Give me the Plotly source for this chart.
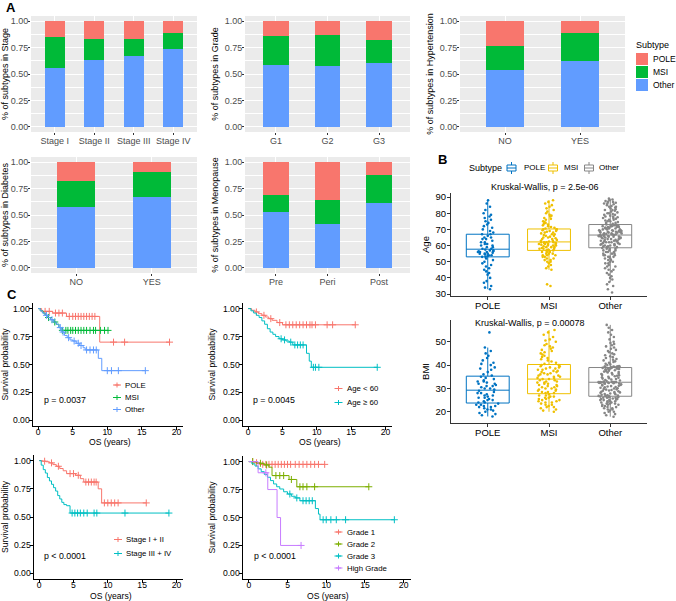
import numpy as np
import plotly.graph_objects as go

W, H = 676, 601
FONT = "Liberation Sans, Arial, Helvetica, sans-serif"

# ---------------- data ----------------
subtypes = ["POLE", "MSI", "Other"]
C_POLE, C_MSI, C_OTHER = "#F8766D", "#00BA38", "#619CFF"
JCO = {"POLE": "#0073C2", "MSI": "#EFC000", "Other": "#868686"}

# panel A: fraction of each subtype (stacked: Other bottom, MSI, POLE top)
stage_cats = ["Stage I", "Stage II", "Stage III", "Stage IV"]
stage_other = [0.56, 0.63, 0.67, 0.74]
stage_msi = [0.29, 0.205, 0.165, 0.15]
stage_pole = [0.15, 0.165, 0.165, 0.11]

grade_cats = ["G1", "G2", "G3"]
grade_other = [0.586, 0.574, 0.602]
grade_msi = [0.279, 0.294, 0.219]
grade_pole = [0.135, 0.132, 0.179]

htn_cats = ["NO", "YES"]
htn_other = [0.535, 0.62]
htn_msi = [0.227, 0.267]
htn_pole = [0.238, 0.113]

diab_cats = ["NO", "YES"]
diab_other = [0.574, 0.675]
diab_msi = [0.246, 0.237]
diab_pole = [0.18, 0.088]

meno_cats = ["Pre", "Peri", "Post"]
meno_other = [0.53, 0.41, 0.615]
meno_msi = [0.155, 0.237, 0.262]
meno_pole = [0.315, 0.353, 0.123]

# panel B: age and BMI per subtype
age_pole = [33, 34, 35, 37, 38, 40, 42, 43, 44, 45, 46, 47, 48, 49, 50, 51, 52,
            53, 53, 53.5, 54, 54, 54.5, 55, 55, 55, 55.5, 56, 56, 56, 56.5, 56.5, 57, 57,
            57.5, 58, 58, 59, 59, 60, 60, 61, 61, 62, 62, 63, 64, 64, 65, 65, 66, 67,
            67, 68, 69, 70, 71, 72, 73, 74, 75, 76, 77, 78, 79, 80, 82, 84, 86, 88]
age_msi = [35, 36, 45, 46, 47, 48, 49, 50, 50, 51, 51, 52, 52, 53, 53, 54, 54, 54, 55, 55, 55, 56, 56, 56, 57,
           57, 57, 57.5, 58, 58, 58, 58.5, 59, 59, 59, 59.5, 60, 60, 60, 60.5, 60.5, 61, 61, 61, 61.5, 61.5, 62, 62, 62, 62,
           62.5, 63, 63, 63.5, 64, 64, 64.5, 65, 65, 65.5, 66, 66, 66.5, 67, 67, 67.5, 68, 68, 68.5, 69, 69, 69.5, 70, 70, 70,
           70.5, 71, 71.5, 72, 72.5, 73, 73.5, 74, 74.5, 75, 76, 76.5, 77, 78, 78.5, 79, 80, 81, 82, 83, 84, 85, 86, 87, 88]
age_other = [31, 33, 35, 36, 37.5, 39, 40, 41, 42, 43, 44, 45, 45, 46, 47, 47, 48, 49, 49, 50, 50, 51, 51, 52, 52,
             53, 53, 53, 54, 54, 54, 55, 55, 55, 56, 56, 56, 57, 57, 57, 58, 58, 58, 58.5, 59,
             59, 59.5, 59.5, 60, 60, 60, 60.5, 60.5, 61, 61, 61, 61.5, 61.5, 62, 62, 62, 62.5, 62.5, 63, 63, 63,
             63.5, 63.5, 64, 64, 64, 64.5, 64.5, 65, 65, 65, 65.5, 65.5, 65.5, 65.8, 65.9, 66, 66, 66, 66,
             66.2, 66.5, 66.5, 66.8, 67, 67, 67, 67.2, 67.5, 67.5, 67.5, 68, 68, 68, 68.2, 68.5, 68.5, 68.5, 69, 69,
             69, 69.2, 69.5, 69.5, 69.5, 70, 70, 70, 70.5, 70.5, 70.5, 71, 71, 71, 71.5, 71.5, 71.5, 72, 72, 72, 72,
             72.5, 72.5, 72.5, 72.5,
             73, 73, 73.5, 74, 74, 74.5, 75, 75, 75.5, 76, 76, 76.5, 77, 77, 77.5, 78, 78, 78.5, 79, 79, 79.5, 80, 80,
             80.5, 81, 81.5, 82, 82, 82.5, 83, 83.5, 84, 84, 84.5, 85, 85.5, 86, 86, 86.5, 87, 87, 87.5, 88, 88.5, 89]

bmi_pole = [18, 18.5, 19, 19.5, 20, 20.5, 21, 21, 21.5, 22, 22, 22.5, 22.5, 23, 23, 23.5,
            24, 24, 24.5, 25, 25, 25.5, 26, 26, 26.5, 27, 27, 27.5, 28, 28, 28.5, 29,
            29.5, 30, 30, 30.5, 31, 31, 31.5, 32, 32, 32.5, 33, 33, 33.5, 34, 34.5, 35,
            35.5, 36, 37, 38, 38.5, 39, 40, 40.5, 41, 42, 43, 44, 45, 46, 47.5, 54]
bmi_msi = [20, 20.5, 21, 21.5, 22, 22, 22.5, 23, 23, 23.5, 24, 24, 24.5, 24.5, 25, 25, 25.5, 25.5, 26, 26, 26.5, 26.5, 27, 27, 27.5,
           28, 28, 28.5, 28.5, 29, 29, 29.5, 29.5, 30, 30, 30.5, 30.5, 31, 31, 31.5, 31.5, 32, 32, 32.5, 32.5, 33, 33, 33.5, 33.5, 34,
           34, 34.5, 34.5, 35, 35, 35.5, 35.5, 36, 36, 36.5, 36.5, 37, 37, 37.5, 37.5, 38, 38, 38.5, 38.5, 39, 39, 39.5, 39.5, 40, 40,
           40.5, 41, 41.5, 42, 42.5, 43, 43.5, 44, 44.5, 45, 45.5, 46, 46.5, 47, 47.5, 48, 48.5, 49, 50, 50.5, 51, 52, 53, 54, 55]
bmi_other = [17.9, 18.5, 19, 19.5, 20, 20, 20.5, 21, 21, 21.5, 21.5, 22, 22, 22.5, 22.5, 23, 23, 23, 23.5, 23.5, 23.5,
             24, 24, 24, 24.5, 24.5, 24.5, 25, 25, 25, 25.3, 25.5, 25.5, 25.7, 26, 26, 26, 26.2, 26.3, 26.5, 26.5,
             26.6, 26.7, 26.8, 26.9,
             27, 27.1, 27.3, 27.5, 27.6, 27.8, 28, 28.1, 28.3, 28.5, 28.6, 28.8, 29, 29.1, 29.3, 29.5, 29.6, 29.8,
             30, 30.1, 30.3, 30.5, 30.6, 30.8, 31, 31.1, 31.3, 31.5, 31.6, 31.8, 32, 32.1, 32.2, 32.3, 32.4, 32.5,
             32.5, 32.6, 32.6, 32.7, 32.7, 32.7, 32.7, 32.7, 32.7,
             32.8, 33, 33.2, 33.4, 33.6, 33.8, 34, 34.2, 34.4, 34.6, 34.8, 35, 35.2, 35.4, 35.6, 35.8, 36, 36.2,
             36.4, 36.6, 36.8, 37, 37.2, 37.4, 37.6, 37.8, 38, 38.1, 38.2, 38.3, 38.4, 38.5, 38.6, 38.7, 38.8,
             38.9, 39, 39.1, 39.2, 39.3, 39.4, 39.4, 39.4, 39.4, 39.4,
             39.6, 40, 40.3, 40.6, 41, 41.3, 41.6, 42, 42.3, 42.6, 43, 43.4, 43.8, 44.2, 44.6, 45, 45.5, 46, 46.5,
             47, 47.5, 48, 48.5, 49, 49.5, 50, 51, 52, 53, 54, 55, 56, 57.2]

# panel C: Kaplan-Meier step curves (time in years, survival) and censor times
km_sub_pole_t = [0, 0.5, 2.1, 4.1, 8.9, 19.0]
km_sub_pole_s = [1.0, 0.975, 0.96, 0.93, 0.70, 0.70]
km_sub_pole_c = [1.0, 1.6, 2.5, 3.0, 3.5, 4.5, 5.0, 5.4, 5.8, 6.2, 6.6, 7.0, 7.4, 7.8, 8.2, 10.9, 12.5, 19.0]
km_sub_msi_t = [0, 0.3, 0.7, 1.0, 1.4, 1.8, 2.2, 2.6, 3.0, 3.3, 10.1]
km_sub_msi_s = [1.0, 0.98, 0.96, 0.94, 0.92, 0.90, 0.88, 0.86, 0.83, 0.805, 0.805]
km_sub_msi_c = [1.5, 2.4, 3.5, 4.0, 4.3, 4.7, 5.0, 5.4, 5.8, 6.2, 6.6, 7.0, 7.5, 8.0, 8.3, 9.0, 9.6, 10.1]
km_sub_oth_t = [0, 0.3, 0.6, 1.0, 1.4, 1.8, 2.2, 2.6, 3.0, 3.4, 3.8, 4.2, 4.6, 5.0, 5.5, 6.0, 6.5, 6.8, 8.7, 9.2, 15.5]
km_sub_oth_s = [1.0, 0.98, 0.96, 0.94, 0.92, 0.90, 0.88, 0.86, 0.83, 0.79, 0.76, 0.74, 0.72, 0.71, 0.69, 0.67,
                0.65, 0.63, 0.555, 0.445, 0.445]
km_sub_oth_c = [1.2, 2.0, 3.2, 3.6, 4.4, 5.2, 5.8, 6.2, 7.0, 7.5, 8.0, 8.4, 10.0, 10.6, 11.6, 15.5]

km_age_lt_t = [0, 0.5, 1.0, 1.5, 2.0, 2.5, 3.0, 3.5, 4.2, 5.0, 15.6]
km_age_lt_s = [1.0, 0.985, 0.97, 0.955, 0.94, 0.925, 0.91, 0.895, 0.875, 0.855, 0.855]
km_age_lt_c = [1.2, 2.3, 3.3, 4.6, 5.5, 6.0, 6.5, 7.0, 7.5, 8.0, 8.5, 9.0, 9.3, 9.8, 11.5, 12.3, 15.6]
km_age_ge_t = [0, 0.4, 0.8, 1.2, 1.6, 2.0, 2.4, 2.8, 3.2, 3.6, 4.0, 4.5, 5.0, 5.5, 6.0, 6.5, 8.5, 8.9, 9.2, 18.8]
km_age_ge_s = [1.0, 0.98, 0.96, 0.94, 0.92, 0.89, 0.86, 0.82, 0.79, 0.77, 0.75, 0.73, 0.72, 0.71, 0.70, 0.675,
               0.60, 0.53, 0.475, 0.475]
km_age_ge_c = [4.8, 5.3, 6.2, 6.8, 7.2, 7.6, 8.0, 9.5, 9.8, 10.3, 18.8]

km_stg_12_t = [0, 0.5, 1.0, 1.5, 2.0, 2.5, 3.0, 3.5, 4.0, 5.3, 6.0, 6.5, 8.6, 9.1, 15.6]
km_stg_12_s = [1.0, 0.995, 0.99, 0.98, 0.965, 0.95, 0.93, 0.91, 0.885, 0.87, 0.84, 0.81, 0.75, 0.625, 0.625]
km_stg_12_c = [0.8, 1.8, 2.8, 4.5, 5.0, 5.7, 6.8, 7.2, 7.6, 8.0, 8.3, 9.5, 10.0, 10.5, 11.0, 11.5, 15.6]
km_stg_34_t = [0, 0.3, 0.6, 0.9, 1.2, 1.5, 1.8, 2.1, 2.4, 2.7, 3.0, 3.3, 3.6, 4.0, 4.5, 18.9]
km_stg_34_s = [1.0, 0.96, 0.92, 0.89, 0.85, 0.82, 0.79, 0.76, 0.73, 0.69, 0.66, 0.63, 0.61, 0.60, 0.535, 0.535]
km_stg_34_c = [4.8, 5.2, 5.6, 6.0, 6.5, 7.0, 8.0, 8.4, 12.5, 18.9]

km_grd_1_t = [0, 0.8, 1.5, 9.8]
km_grd_1_s = [1.0, 0.99, 0.975, 0.975]
km_grd_1_c = [0.5, 1.0, 1.8, 2.2, 2.6, 3.0, 3.4, 3.8, 4.2, 4.6, 5.0, 5.4, 6.0, 6.5, 7.0, 7.5, 8.0, 8.5, 9.0, 9.8]
km_grd_2_t = [0, 1.0, 2.0, 2.6, 3.0, 5.2, 6.2, 15.5]
km_grd_2_s = [1.0, 0.985, 0.97, 0.95, 0.875, 0.84, 0.775, 0.775]
km_grd_2_c = [0.5, 1.5, 2.3, 3.5, 4.0, 4.5, 5.5, 6.6, 7.0, 7.5, 8.5, 15.5]
km_grd_3_t = [0, 0.4, 0.8, 1.2, 1.6, 2.0, 2.4, 2.8, 3.2, 3.6, 4.0, 4.5, 5.0, 5.5, 6.0, 6.6, 8.6, 9.0, 9.2, 18.8]
km_grd_3_s = [1.0, 0.98, 0.96, 0.935, 0.91, 0.885, 0.86, 0.83, 0.80, 0.775, 0.755, 0.73, 0.71, 0.69, 0.675,
              0.65, 0.58, 0.53, 0.48, 0.48]
km_grd_3_c = [5.3, 6.2, 7.0, 7.4, 7.8, 8.2, 9.6, 10.0, 10.6, 11.3, 12.5, 18.8]
km_grd_h_t = [0, 1.2, 2.45, 3.65, 4.1, 6.75]
km_grd_h_s = [1.0, 0.90, 0.75, 0.50, 0.25, 0.25]
km_grd_h_c = [2.2, 6.75]

# ---------------- helpers ----------------
fig = go.Figure()
layout = {}
shapes = []
annotations = []


def px(x):
    return x / W


def py(y):
    return 1 - y / H


def axkey(kind, n):
    return f"{kind}axis" if n == 1 else f"{kind}axis{n}"


def ref(kind, n):
    return kind if n == 1 else f"{kind}{n}"


def text(x, y, s, size, xanchor="left", color="black", bold=False, angle=0):
    annotations.append(dict(
        xref="paper", yref="paper", x=px(x), y=py(y), text=f"<b>{s}</b>" if bold else s,
        showarrow=False, xanchor=xanchor, yanchor="middle", textangle=angle,
        font=dict(family=FONT, size=size, color=color)))


def seg(x0, y0, x1, y1, color, width=1):
    shapes.append(dict(type="line", xref="paper", yref="paper",
                       x0=px(x0), y0=py(y0), x1=px(x1), y1=py(y1),
                       line=dict(color=color, width=width)))


def rect(x0, y0, x1, y1, fill, line_color=None, width=0):
    shapes.append(dict(type="rect", xref="paper", yref="paper",
                       x0=px(x0), y0=py(y0), x1=px(x1), y1=py(y1), fillcolor=fill,
                       line=dict(color=line_color or fill, width=width)))


# ---------------- panel A: stacked proportions ----------------
def bar_panel(n, box, cats, other, msi, pole, ytitle):
    x0, x1, y0, y1 = box
    for vals, col in [(other, C_OTHER), (msi, C_MSI), (pole, C_POLE)]:
        fig.add_trace(go.Bar(x=cats, y=vals, width=0.5, marker=dict(color=col, line=dict(width=0)),
                             xaxis=ref("x", n), yaxis=ref("y", n), showlegend=False))
    layout[axkey("x", n)] = dict(
        domain=[px(x0), px(x1)], anchor=ref("y", n), type="category",
        range=[-0.6, len(cats) - 0.4], showgrid=True, gridcolor="white", gridwidth=1.1,
        ticks="outside", ticklen=2, tickcolor="#333333", ticklabelstandoff=-2,
        tickfont=dict(size=9, color="#4D4D4D"), showline=False, zeroline=False)
    layout[axkey("y", n)] = dict(
        domain=[py(y1), py(y0)], anchor=ref("x", n), range=[-0.05, 1.05],
        tickvals=[0, 0.25, 0.5, 0.75, 1], tickformat=".2f",
        showgrid=True, gridcolor="white", gridwidth=1.1,
        minor=dict(tickvals=[0.125, 0.375, 0.625, 0.875], showgrid=True,
                   gridcolor="white", gridwidth=0.5, ticks=""),
        ticks="outside", ticklen=2, tickcolor="#333333", ticklabelstandoff=-2,
        tickfont=dict(size=9, color="#4D4D4D"), showline=False, zeroline=False,
        title=dict(text=ytitle, font=dict(size=9), standoff=4))
    shapes.append(dict(type="rect", xref=f"{ref('x', n)} domain", yref=f"{ref('y', n)} domain",
                       x0=0, x1=1, y0=0, y1=1, fillcolor="#EBEBEB", line=dict(width=0), layer="below"))


bar_panel(1, (31, 197, 16, 132), stage_cats, stage_other, stage_msi, stage_pole, "% of subtypes in Stage")
bar_panel(2, (245, 410, 16, 132), grade_cats, grade_other, grade_msi, grade_pole, "% of subtypes in Grade")
bar_panel(3, (460, 625, 16, 132), htn_cats, htn_other, htn_msi, htn_pole, "% of subtypes in Hypertension")
bar_panel(4, (31, 197, 157, 273), diab_cats, diab_other, diab_msi, diab_pole, "% of subtypes in Diabetes")
bar_panel(5, (245, 410, 157, 273), meno_cats, meno_other, meno_msi, meno_pole, "% of subtypes in Menopause")

# legend for panel A
text(634, 45, "Subtype", 9)
for yc, lab, col in [(59, "POLE", C_POLE), (72, "MSI", C_MSI), (85, "Other", C_OTHER)]:
    rect(636, yc - 6, 648, yc + 6, col)
    text(651, yc, lab, 8.5)


# ---------------- panel B: box plots with jitter ----------------
def box_panel(n, box, lists, yrange, yticks, ytitle):
    x0, x1, y0, y1 = box
    for name, vals in zip(subtypes, lists):
        col = JCO[name]
        fig.add_trace(go.Box(
            x=[name] * len(vals), y=vals, name=name, boxpoints="all", jitter=0.55, pointpos=0,
            width=0.7, whiskerwidth=0, fillcolor="rgba(255,255,255,0)",
            line=dict(color=col, width=1), marker=dict(color=col, size=2.6),
            xaxis=ref("x", n), yaxis=ref("y", n), showlegend=False))
    layout[axkey("x", n)] = dict(
        domain=[px(x0), px(x1)], anchor=ref("y", n), type="category",
        categoryorder="array", categoryarray=subtypes, range=[-0.6, 2.6],
        showgrid=False, zeroline=False, showline=True, linecolor="#333333", linewidth=1,
        ticks="outside", ticklen=3, tickcolor="#333333", ticklabelstandoff=-2,
        tickfont=dict(size=9.5, color="black"))
    layout[axkey("y", n)] = dict(
        domain=[py(y1), py(y0)], anchor=ref("x", n), range=yrange, tickvals=yticks,
        showgrid=False, zeroline=False, showline=True, linecolor="#333333", linewidth=1,
        ticks="outside", ticklen=3, tickcolor="#333333", ticklabelstandoff=-1,
        tickfont=dict(size=9.5, color="black"),
        title=dict(text=ytitle, font=dict(size=9.5), standoff=4))


box_panel(6, (451, 647, 193, 296), [age_pole, age_msi, age_other], [28.8, 92.5],
          [30, 40, 50, 60, 70, 80, 90], "Age")
box_panel(7, (451, 647, 320, 423), [bmi_pole, bmi_msi, bmi_other], [15.2, 59.3],
          [20, 30, 40, 50], "BMI")
text(544, 187, "Kruskal-Wallis, p = 2.5e-06", 9, xanchor="center")
text(529, 323, "Kruskal-Wallis, p = 0.00078", 9, xanchor="center")

# legend for panel B
text(467, 168, "Subtype", 9)
for xc, tx, lab in [(511.5, 522, "POLE"), (553, 562, "MSI"), (589, 597, "Other")]:
    col = JCO[lab]
    rect(507 + (xc - 511.5), 165, 516 + (xc - 511.5), 171, "rgba(255,255,255,0)", col, 1)
    seg(xc - 4.5, 168, xc + 4.5, 168, col)
    seg(xc, 162, xc, 165, col)
    seg(xc, 171, xc, 174, col)
    text(tx, 168, lab, 8)


# ---------------- panel C: Kaplan-Meier curves ----------------
def km_panel(n, box, groups, pval, ptxt_xy, leg_x, leg_rows, xtitle_xy):
    x0, x1, y0, y1 = box
    for lab, col, t, s, cens in groups:
        t = np.asarray(t)
        s = np.asarray(s)
        fig.add_trace(go.Scatter(x=t, y=s, mode="lines", line=dict(color=col, width=1, shape="hv"),
                                 xaxis=ref("x", n), yaxis=ref("y", n), showlegend=False))
        idx = np.searchsorted(t, cens, side="right") - 1
        fig.add_trace(go.Scatter(x=cens, y=s[idx], mode="markers",
                                 marker=dict(symbol="cross-thin", size=5, line=dict(color=col, width=1)),
                                 xaxis=ref("x", n), yaxis=ref("y", n), showlegend=False))
    layout[axkey("x", n)] = dict(
        domain=[px(x0), px(x1)], anchor=ref("y", n), range=[-0.75, 20.95], tickvals=[0, 5, 10, 15, 20],
        showgrid=False, zeroline=False, showline=True, linecolor="black", linewidth=1.2,
        ticks="outside", ticklen=2.5, tickcolor="black", ticklabelstandoff=-5,
        tickfont=dict(size=8.6, color="black"))
    layout[axkey("y", n)] = dict(
        domain=[py(y1), py(y0)], anchor=ref("x", n), range=[-0.05, 1.05],
        tickvals=[0, 0.25, 0.5, 0.75, 1], tickformat=".2f",
        showgrid=False, zeroline=False, showline=True, linecolor="black", linewidth=1.2,
        ticks="outside", ticklen=2.5, tickcolor="black", ticklabelstandoff=-2,
        tickfont=dict(size=8.6, color="black"),
        title=dict(text="Survival probability", font=dict(size=8.6), standoff=5))
    text(xtitle_xy[0], xtitle_xy[1], "OS (years)", 8.6, xanchor="center")
    text(ptxt_xy[0], ptxt_xy[1], pval, 8.8)
    for (lab, col, *_), yr in zip(groups, leg_rows):
        seg(leg_x - 4, yr, leg_x + 4, yr, col)
        seg(leg_x - 2.5, yr, leg_x + 2.5, yr, col)
        seg(leg_x, yr - 2.5, leg_x, yr + 2.5, col)
        text(leg_x + 6, yr, lab, 7.8)


km_panel(8, (33, 183, 303, 426), [
    ("POLE", C_POLE, km_sub_pole_t, km_sub_pole_s, km_sub_pole_c),
    ("MSI", C_MSI, km_sub_msi_t, km_sub_msi_s, km_sub_msi_c),
    ("Other", C_OTHER, km_sub_oth_t, km_sub_oth_s, km_sub_oth_c),
], "p = 0.0037", (42, 400), 117, [385, 397.5, 409.5], (110, 442))

km_panel(9, (243, 392, 303, 426), [
    ("Age &lt; 60", "#F8766D", km_age_lt_t, km_age_lt_s, km_age_lt_c),
    ("Age ≥ 60", "#00BFC4", km_age_ge_t, km_age_ge_s, km_age_ge_c),
], "p = 0.0045", (251, 400), 338.5, [388.5, 402.5], (320, 442))

km_panel(10, (34, 183, 455, 579), [
    ("Stage I + II", "#F8766D", km_stg_12_t, km_stg_12_s, km_stg_12_c),
    ("Stage III + IV", "#00BFC4", km_stg_34_t, km_stg_34_s, km_stg_34_c),
], "p &lt; 0.0001", (42, 556), 118, [539.5, 553.5], (111, 595.5))

km_panel(11, (243, 411, 456, 579), [
    ("Grade 1", "#F8766D", km_grd_1_t, km_grd_1_s, km_grd_1_c),
    ("Grade 2", "#7CAE00", km_grd_2_t, km_grd_2_s, km_grd_2_c),
    ("Grade 3", "#00BFC4", km_grd_3_t, km_grd_3_s, km_grd_3_c),
    ("High Grade", "#C77CFF", km_grd_h_t, km_grd_h_s, km_grd_h_c),
], "p &lt; 0.0001", (252, 556), 338.5, [532, 544, 556, 568], (328, 595.5))

# panel letters
text(4, 8, "A", 13, bold=True)
text(436, 159, "B", 13, bold=True)
text(5, 294, "C", 13, bold=True)

fig.update_layout(
    width=W, height=H, margin=dict(l=0, r=0, t=0, b=0),
    paper_bgcolor="white", plot_bgcolor="rgba(0,0,0,0)",
    font=dict(family=FONT, color="black"),
    barmode="stack", boxmode="overlay", showlegend=False,
    template="none", shapes=shapes, annotations=annotations,
    **layout,
)

# the page body has a default 8px margin; drop it so the figure fills the window
fig.write_html("out.html", config={"displayModeBar": False},
               post_script="document.body.style.margin='0';")
